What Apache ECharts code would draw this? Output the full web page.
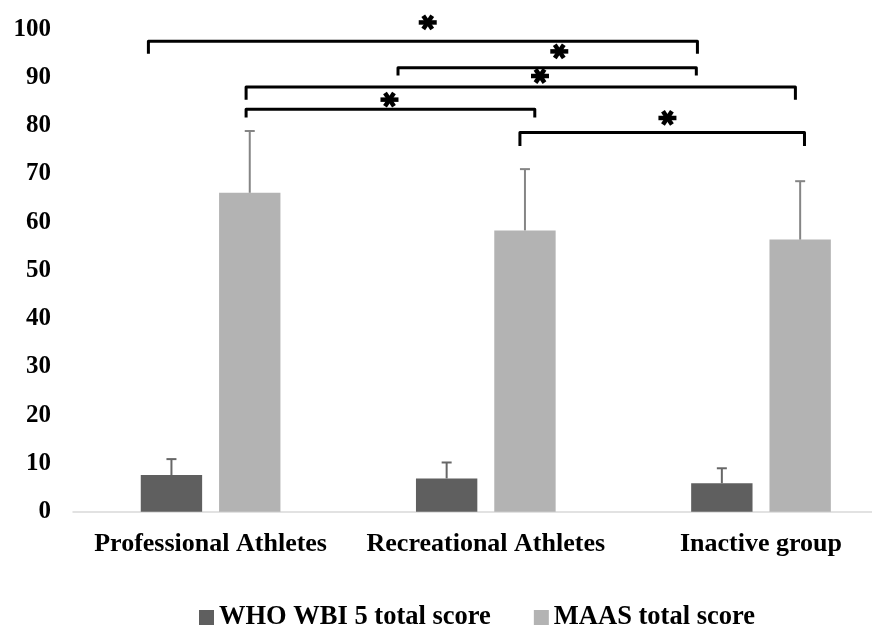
<!DOCTYPE html>
<html>
<head>
<meta charset="utf-8">
<script src="https://cdn.jsdelivr.net/npm/echarts@6/dist/echarts.min.js"></script>
<style>html,body{margin:0;padding:0;background:#fff;overflow:hidden;width:872px;height:628px}#c{width:900px;height:628px}</style>
</head>
<body>
<div id="c"></div>
<script>
// ---- data ----
var categories = ['Professional Athletes', 'Recreational Athletes', 'Inactive group'];
var seriesNames = ['WHO WBI 5 total score', 'MAAS total score'];
var whoValues = [7.6, 6.9, 5.9];
var whoSD = [3.3, 3.3, 3.1];
var maasValues = [66.1, 58.3, 56.4];
var maasSD = [12.8, 12.7, 12.1];
var yTicks = [0, 10, 20, 30, 40, 50, 60, 70, 80, 90, 100];
// significance brackets (x in category units: category i spans [i, i+1])
var bracketFrom = [0.274, 1.181, 0.629, 0.629, 1.624];
var bracketTo   = [2.269, 2.265, 2.625, 1.678, 2.658];
var bracketY    = [97.5, 92.0, 88.0, 83.4, 78.6];
var bracketLeg  = [94.9, 90.4, 85.4, 81.7, 75.8];
var starX       = [1.289, 1.767, 1.697, 1.150, 2.160];
var starY       = [101.4, 95.4, 90.3, 85.4, 81.6];

var BAR_W = 0.223, BAR_GAP = 0.276;
var FONT = "'Liberation Serif', 'Times New Roman', serif";

var errData = [];
for (var i = 0; i < categories.length; i++) {
  errData.push([i, whoValues[i], whoSD[i], 0]);
  errData.push([i, maasValues[i], maasSD[i], 1]);
}
var bracketData = [];
for (var j = 0; j < bracketFrom.length; j++) {
  bracketData.push([bracketFrom[j], bracketY[j], bracketTo[j], bracketLeg[j], starX[j], starY[j]]);
}

var chart = echarts.init(document.getElementById('c'), null, {renderer: 'canvas'});
chart.setOption({
  animation: false,
  backgroundColor: '#fff',
  grid: {left: 73, width: 825.6, top: 29.2, height: 482.5, containLabel: false},
  legend: {
    data: seriesNames,
    left: 199, top: 604, padding: 0,
    icon: 'rect', itemWidth: 15, itemHeight: 15, itemGap: 43,
    textStyle: {fontFamily: FONT, fontWeight: 'bold', fontSize: 26.5, color: '#000'}
  },
  xAxis: [{
    type: 'category', data: categories,
    axisLine: {lineStyle: {color: '#d9d9d9', width: 1.5}},
    axisTick: {show: false},
    axisLabel: {interval: 0, hideOverlap: false, fontFamily: FONT, fontWeight: 'bold', fontSize: 26, color: '#000', margin: 20}
  }, {
    type: 'value', min: 0, max: 3, show: false
  }],
  yAxis: {
    type: 'value', min: yTicks[0], max: yTicks[yTicks.length - 1], interval: 10,
    axisLine: {show: false}, axisTick: {show: false}, splitLine: {show: false},
    axisLabel: {fontFamily: FONT, fontWeight: 'bold', fontSize: 25, color: '#000', margin: 22}
  },
  series: [{
    name: seriesNames[0], type: 'bar', data: whoValues,
    barWidth: (BAR_W * 100) + '%', barGap: (BAR_GAP * 100) + '%',
    itemStyle: {color: '#5f5f5f'}
  }, {
    name: seriesNames[1], type: 'bar', data: maasValues,
    barWidth: (BAR_W * 100) + '%',
    itemStyle: {color: '#b3b3b3'}
  }, {
    type: 'custom', z: 5, silent: true,
    data: errData,
    renderItem: function (params, api) {
      var cat = api.value(0), v = api.value(1), sd = api.value(2), s = api.value(3);
      var base = api.coord([cat, v]);
      var top = api.coord([cat, v + sd]);
      var w = api.size([1, 0])[0];
      var bw = BAR_W * w, gap = BAR_GAP * bw, total = 2 * bw + gap;
      var x = s === 0 ? base[0] - total / 2 + bw / 2 : base[0] + total / 2 - bw / 2;
      var col = s === 0 ? '#676767' : '#858585';
      return {
        type: 'group', children: [
          {type: 'line', shape: {x1: x, y1: base[1], x2: x, y2: top[1]}, style: {stroke: col, lineWidth: 2}},
          {type: 'line', shape: {x1: x - 5, y1: top[1], x2: x + 5, y2: top[1]}, style: {stroke: col, lineWidth: 2}}
        ]
      };
    }
  }, {
    type: 'custom', xAxisIndex: 1, yAxisIndex: 0, z: 6, silent: true, clip: false,
    data: bracketData,
    renderItem: function (params, api) {
      var p0 = api.coord([api.value(0), api.value(1)]);
      var p1 = api.coord([api.value(2), api.value(1)]);
      var leg = api.coord([api.value(0), api.value(3)]);
      var st = api.coord([api.value(4), api.value(5)]);
      var r = 9, children = [];
      children.push({
        type: 'polyline',
        shape: {points: [[p0[0], leg[1]], [p0[0], p0[1]], [p1[0], p1[1]], [p1[0], leg[1]]]},
        style: {stroke: '#000', lineWidth: 3, fill: null, lineJoin: 'round'}
      });
      for (var k = 0; k < 3; k++) {
        var a = k * Math.PI / 3;
        children.push({
          type: 'line',
          shape: {x1: st[0] - r * Math.cos(a), y1: st[1] - r * Math.sin(a) * 0.85,
                  x2: st[0] + r * Math.cos(a), y2: st[1] + r * Math.sin(a) * 0.85},
          style: {stroke: '#000', lineWidth: 4.5}
        });
      }
      return {type: 'group', children: children};
    }
  }]
});
</script>
</body>
</html>
